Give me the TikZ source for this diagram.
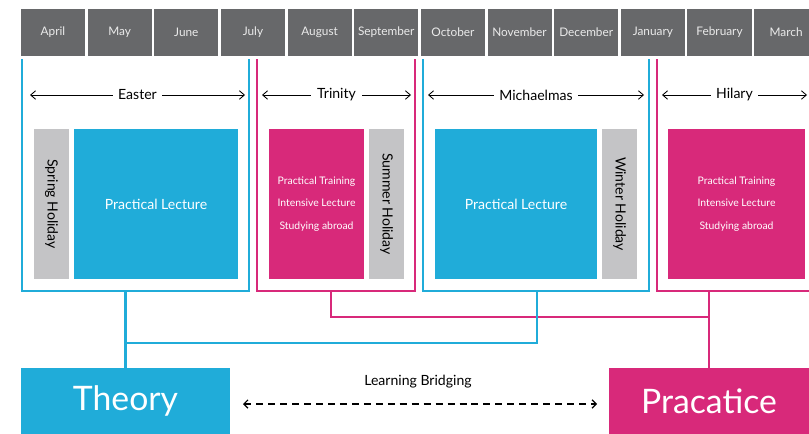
\documentclass[tikz,border=0pt]{standalone}
\usepackage{fontspec}
\setmainfont{Lato}
\usetikzlibrary{arrows.meta,positioning}
\definecolor{tblue}{HTML}{20ACD9}
\definecolor{tpink}{HTML}{D8297A}
\definecolor{mgray}{HTML}{67686A}
\definecolor{hgray}{HTML}{C4C4C6}
\tikzstyle{month} = [fill=mgray, text=white!92!black, minimum width=1.6cm, minimum height=1.175cm, inner sep=0pt, font=\fontsize{8.4}{9}\selectfont]
\tikzstyle{frameb} = [draw=tblue, line width=1.5pt]
\tikzstyle{framep} = [draw=tpink, line width=1.5pt]
\tikzstyle{linkb} = [draw=tblue, line width=1.8pt]
\tikzstyle{linkp} = [draw=tpink, line width=1.8pt]
\tikzstyle{term} = [semithick,{Straight Barb[length=3.5pt,width=6pt]}-{Straight Barb[length=3.5pt,width=6pt]}]
\tikzstyle{termlabel} = [fill=white, inner sep=4pt, font=\fontsize{10}{12}\selectfont]
\tikzstyle{lecture} = [fill=tblue, text=white, minimum height=3.75cm, inner sep=0pt, font=\fontsize{10}{12}\selectfont]
\tikzstyle{training} = [fill=tpink, text=white, minimum height=3.75cm, inner sep=0pt, align=center, font=\fontsize{7.4}{15.8}\selectfont]
\tikzstyle{holiday} = [fill=hgray, rotate=-90, minimum width=3.75cm, minimum height=0.875cm, inner sep=0pt, font=\fontsize{10}{12}\selectfont]
\tikzstyle{side} = [text=white, minimum height=1.65cm, inner sep=0pt, font=\fontsize{24}{26}\selectfont]

\begin{document}
\begin{tikzpicture}[x=0.025cm, y=-0.025cm]
	\useasboundingbox (0,0) rectangle (809,434);
	% months
	\foreach \m [count=\i from 0] in {April,May,June,July,August,September,October,November,December,January,February,March}
		\node[month] (m\i) at (53+66.65*\i, 32.5) {\m};
	% terms
	\draw[frameb] (22,59) -- (22,291) -- (249,291) -- (249,59);
	\draw[framep] (257,59) -- (257,291) -- (415,291) -- (415,59);
	\draw[frameb] (423,59) -- (423,291) -- (649,291) -- (649,59);
	\draw[framep] (657,59) -- (657,291) -- (830,291);
	\draw[term] (30,95) -- (245,95) node[midway, termlabel] (easter) {Easter};
	\draw[term] (262,95) -- (411,95) node[midway, termlabel] (trinity) {Trinity};
	\draw[term] (428,95) -- (644,95) node[midway, termlabel] (michaelmas) {Michaelmas};
	\draw[term] (662,95) -- (807,95) node[midway, termlabel] (hilary) {Hilary};
	% boxes
	\node[holiday] (spring) at (51.5,204) {Spring Holiday};
	\node[lecture, minimum width=4.1cm] (lect1) at (156,204) {Practical Lecture};
	\node[training, minimum width=2.375cm] (train1) at (316.5,204) {Practical Training\\Intensive Lecture\\Studying abroad};
	\node[holiday] (summer) at (386.5,204) {Summer Holiday};
	\node[lecture, minimum width=4.05cm] (lect2) at (516,204) {Practical Lecture};
	\node[holiday] (winter) at (619.5,204) {Winter Holiday};
	\node[training, minimum width=3.425cm] (train2) at (736.5,204) {Practical Training\\Intensive Lecture\\Studying abroad};
	% theory and practice
	\node[side, fill=tblue, minimum width=5.225cm] (theory) at (125.5,401) {Theory};
	\node[side, fill=tpink, minimum width=5cm] (practice) at (709,401) {Pracatice};
	\coordinate (easterbot) at (125.5,291);
	\coordinate (trinbot) at (331,291);
	\coordinate (michbot) at (537,291);
	\coordinate (hilbot) at (709,291);
	\coordinate (bjoin) at (125.5,343);
	\coordinate (pjoin) at (709,317);
	\draw[linkp] (trinbot) |- (pjoin);
	\draw[linkp] (hilbot) -- (practice.north);
	\draw[linkb] (michbot) |- (bjoin);
	\draw[linkb] (easterbot) -- (theory.north);
	\coordinate (bl) at (243,404);
	\coordinate (br) at (597,404);
	\draw[thick, dash pattern=on 5pt off 3.5pt, {Straight Barb[length=3pt,width=6pt]}-{Straight Barb[length=3pt,width=6pt]}] (bl) -- (br);
	\node[font=\fontsize{10}{12}\selectfont] (bridge) at (418,382) {Learning Bridging};
\end{tikzpicture}
\end{document}
